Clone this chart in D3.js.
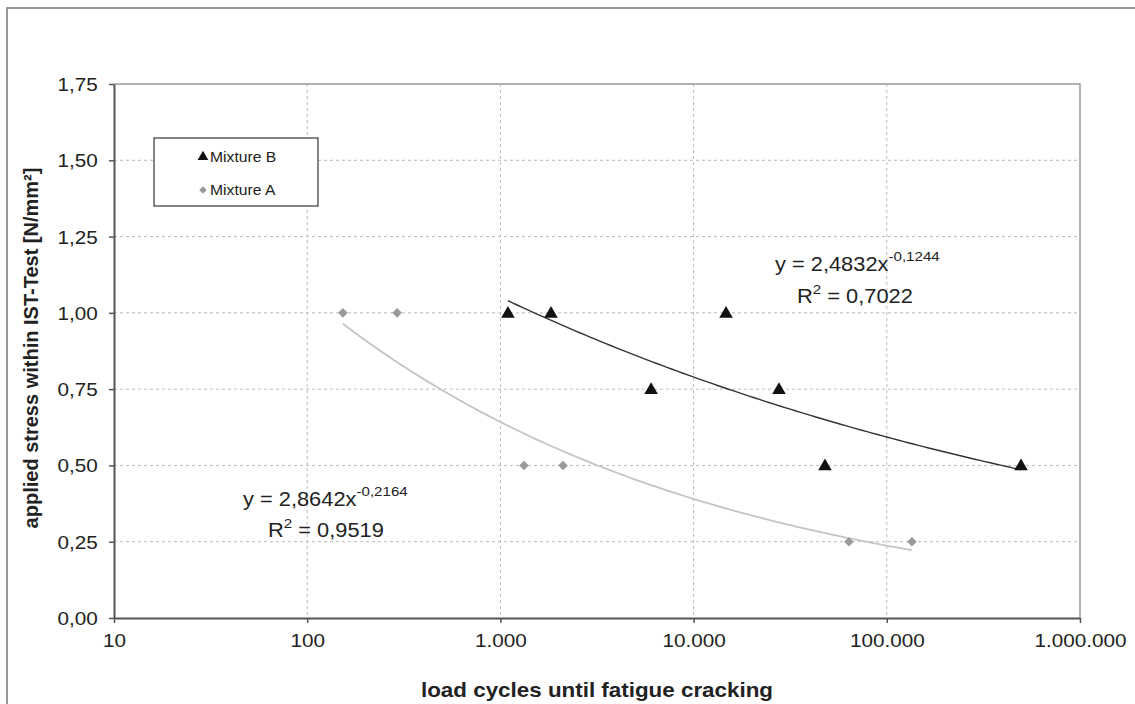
<!DOCTYPE html>
<html>
<head>
<meta charset="utf-8">
<script src="https://cdn.jsdelivr.net/npm/d3@7"></script>
<style>
  body { margin: 0; background: #fff; }
  text { font-family: "Liberation Sans", Arial, sans-serif; fill: #222; }
</style>
</head>
<body>
<script>
// data
var mixBCycles = [1094, 1828, 6026, 14720, 27670, 47860, 495000];
var mixBStress = [1.00, 1.00, 0.75, 1.00, 0.75, 0.50, 0.50];
var mixACycles = [153, 292, 1324, 2109, 63680, 134900];
var mixAStress = [1.00, 1.00, 0.50, 0.50, 0.25, 0.25];

// power trend lines y = a * x^b
var fitB = { a: 2.4832, b: -0.1244, r2: "0,7022", from: 1094, to: 495000 };
var fitA = { a: 2.8642, b: -0.2164, r2: "0,9519", from: 153, to: 134900 };

var xTicks = [10, 100, 1000, 10000, 100000, 1000000];
var yTicks = [0, 0.25, 0.5, 0.75, 1.0, 1.25, 1.5, 1.75];

function init() {
    var width = 1135, height = 704;
    var left = 114, right = 1080, top = 84, bottom = 618;
    var sx = 1.12;  // the original text looks a bit wide

    var locale = d3.formatLocale({ decimal: ",", thousands: ".", grouping: [3], currency: ["", ""] });
    var fmtX = locale.format(",d");
    var fmtY = locale.format(".2f");

    var svg = d3.select("body").append("svg")
        .attr("width", width)
        .attr("height", height);

    // outer frame
    svg.append("rect")
        .attr("x", 7).attr("y", 8)
        .attr("width", 1200).attr("height", 800)
        .attr("fill", "none").attr("stroke", "#999").attr("stroke-width", 2);

    var x = d3.scaleLog().domain([10, 1000000]).range([left, right]);
    var y = d3.scaleLinear().domain([0, 1.75]).range([bottom, top]);

    // grid
    svg.append("g").selectAll("line")
        .data(yTicks.filter(function (d) { return d > 0 && d < 1.75; }))
        .enter().append("line")
        .attr("x1", left).attr("x2", right)
        .attr("y1", function (d) { return y(d); })
        .attr("y2", function (d) { return y(d); })
        .attr("stroke", "#bbb").attr("stroke-dasharray", "3,3");
    svg.append("g").selectAll("line")
        .data(xTicks.slice(1, -1))
        .enter().append("line")
        .attr("x1", function (d) { return x(d); })
        .attr("x2", function (d) { return x(d); })
        .attr("y1", top).attr("y2", bottom)
        .attr("stroke", "#bbb").attr("stroke-dasharray", "3,3");

    // plot frame top/right
    svg.append("path")
        .attr("d", "M" + left + "," + top + "H" + right + "V" + bottom)
        .attr("fill", "none").attr("stroke", "#999").attr("stroke-width", 1.5);

    // axes
    var xAxis = svg.append("g")
        .attr("transform", "translate(0," + bottom + ")")
        .call(d3.axisBottom(x).tickValues(xTicks).tickFormat(fmtX).tickSize(5).tickSizeOuter(0));
    var yAxis = svg.append("g")
        .attr("transform", "translate(" + left + ",0)")
        .call(d3.axisLeft(y).tickValues(yTicks).tickFormat(fmtY).tickSize(5).tickSizeOuter(0));

    [xAxis, yAxis].forEach(function (g) {
        g.select(".domain").attr("stroke", "#555").attr("stroke-width", 2);
        g.selectAll(".tick line").attr("stroke", "#555").attr("stroke-width", 1.5);
        g.selectAll(".tick text").attr("font-size", 18.5).attr("fill", "#222")
            .style("font-family", "'Liberation Sans', Arial, sans-serif")
            .attr("transform", "scale(" + sx + ",1)");
    });
    xAxis.selectAll(".tick text").attr("dy", "0").attr("y", 29);
    yAxis.selectAll(".tick text").attr("x", -14.5).attr("dy", "0.35em");

    // trend lines
    function curve(fit) {
        var pts = d3.range(0, 101).map(function (i) {
            var lx = Math.log10(fit.from) + (Math.log10(fit.to) - Math.log10(fit.from)) * i / 100;
            var c = Math.pow(10, lx);
            return [c, fit.a * Math.pow(c, fit.b)];
        });
        return d3.line().x(function (d) { return x(d[0]); }).y(function (d) { return y(d[1]); })(pts);
    }
    svg.append("path").attr("d", curve(fitA))
        .attr("fill", "none").attr("stroke", "#c4c4c4").attr("stroke-width", 1.8);
    svg.append("path").attr("d", curve(fitB))
        .attr("fill", "none").attr("stroke", "#333").attr("stroke-width", 1.4);

    // markers
    var tri = d3.symbol().type(d3.symbolTriangle).size(80);
    var dia = d3.symbol().type(d3.symbolSquare).size(46);

    svg.append("g").selectAll("path")
        .data(mixACycles)
        .enter().append("path")
        .attr("d", dia)
        .attr("transform", function (d, i) { return "translate(" + x(d) + "," + y(mixAStress[i]) + ") rotate(45)"; })
        .attr("fill", "#9a9a9a");
    svg.append("g").selectAll("path")
        .data(mixBCycles)
        .enter().append("path")
        .attr("d", tri)
        .attr("transform", function (d, i) { return "translate(" + x(d) + "," + (y(mixBStress[i]) + 1) + ")"; })
        .attr("fill", "#111");

    // legend
    svg.append("rect")
        .attr("x", 154).attr("y", 138).attr("width", 164).attr("height", 68)
        .attr("fill", "#fff").attr("stroke", "#444").attr("stroke-width", 1.3);
    svg.append("path").attr("d", d3.symbol().type(d3.symbolTriangle).size(50))
        .attr("transform", "translate(203,157)").attr("fill", "#111");
    svg.append("text").attr("transform", "translate(210,162) scale(" + sx + ",1)")
        .attr("font-size", 14).text("Mixture B");
    svg.append("path").attr("d", d3.symbol().type(d3.symbolSquare).size(28))
        .attr("transform", "translate(203,190) rotate(45)").attr("fill", "#9a9a9a");
    svg.append("text").attr("transform", "translate(210,195) scale(" + sx + ",1)")
        .attr("font-size", 14).text("Mixture A");

    // equations
    function fmtNum(v) { return String(v).replace(".", ","); }
    function equation(fit, ex, ey, rx, ry) {
        var t = svg.append("text").attr("transform", "translate(" + ex + "," + ey + ") scale(" + sx + ",1)")
            .attr("font-size", 19.5);
        t.append("tspan").text("y = " + fmtNum(fit.a) + "x");
        t.append("tspan").attr("dy", -10).attr("font-size", 13.5).text(fmtNum(fit.b));
        var r = svg.append("text").attr("transform", "translate(" + rx + "," + ry + ") scale(" + sx + ",1)")
            .attr("font-size", 19.5);
        r.append("tspan").text("R");
        r.append("tspan").attr("dy", -9).attr("font-size", 13.5).text("2");
        r.append("tspan").attr("dy", 9).text(" = " + fit.r2);
    }
    equation(fitB, 775, 271, 797, 303);
    equation(fitA, 243, 506, 268, 537);

    // axis titles
    svg.append("text")
        .attr("transform", "translate(" + 597 + ",697) scale(" + sx + ",1)")
        .attr("text-anchor", "middle").attr("font-size", 20).attr("font-weight", "bold")
        .text("load cycles until fatigue cracking");
    svg.append("text")
        .attr("transform", "translate(38," + 348 + ") rotate(-90)")
        .attr("text-anchor", "middle").attr("font-size", 20).attr("font-weight", "bold")
        .text("applied stress within IST-Test [N/mm²]");
}

window.onload = init;
</script>
</body>
</html>
